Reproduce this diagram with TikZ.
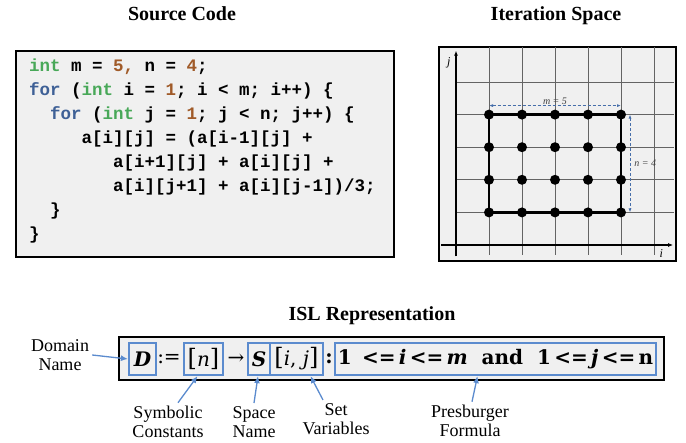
\documentclass[tikz,border=0pt]{standalone}
\usepackage{fontspec}
\setmainfont{Liberation Serif}
\newfontfamily\codefont{Liberation Mono}
\newfontfamily\islfont{DejaVu Serif}
\usetikzlibrary{arrows.meta,positioning}

\definecolor{intgreen}{RGB}{72,168,88}
\definecolor{forblue}{RGB}{62,96,150}
\definecolor{numbrown}{RGB}{160,90,40}
\definecolor{islblue}{RGB}{91,139,206}
\definecolor{dimblue}{RGB}{70,110,170}
\definecolor{panelgray}{RGB}{240,240,240}
\definecolor{gridgray}{RGB}{100,100,100}

\newcommand{\kwint}{\textcolor{intgreen}{int}}
\newcommand{\kwfor}{\textcolor{forblue}{for}}
\newcommand{\num}[1]{\textcolor{numbrown}{#1}}
\newcommand{\ind}[1]{\hspace*{#1\dimexpr0.6em\relax}}
\newcommand{\bl}{{\fontsize{24}{24}\selectfont[}}
\newcommand{\br}{{\fontsize{24}{24}\selectfont]}}

\begin{document}
\begin{tikzpicture}[x=1pt,y=-1pt,
  title/.style={font=\fontsize{20}{24}\selectfont\bfseries, anchor=base, inner sep=0},
  panel/.style={draw=black, line width=1.1pt, fill=panelgray},
  islbox/.style={draw=islblue, line width=2.2pt, minimum height=32pt, inner sep=0,
                 font=\islfont\fontsize{20}{24}\selectfont},
  islsym/.style={inner sep=0, font=\islfont\fontsize{20}{24}\selectfont},
  note/.style={font=\fontsize{18}{19.5}\selectfont, align=center, inner sep=0},
  labelarrow/.style={islblue, line width=1.3pt, -{Latex[length=7pt,width=6pt]}},
  gridline/.style={gridgray, line width=0.8pt},
  axisline/.style={black, line width=1.3pt, -{Latex[length=5pt,width=4pt]}},
  gridpt/.style={circle, fill=black, inner sep=0, minimum size=10pt},
  dimarrow/.style={dimblue, densely dashed, line width=0.9pt, {Latex[length=4pt]}-{Latex[length=4pt]}},
  dimtext/.style={font=\fontsize{10}{11}\selectfont\itshape, text=black!75, inner sep=1pt}]

\useasboundingbox (0,0) rectangle (686,443);

% titles
\node[title] (srctitle) at (182,21) {Source Code};
\node[title] (itertitle) at (556,21) {Iteration Space};
\node[title] (isltitle) at (372,321) {ISL Representation};

% source code
\draw[panel] (16,51) rectangle (394,257);
\node[anchor=north west, inner sep=0, align=left,
      font=\codefont\fontsize{17.5}{24}\selectfont\bfseries] (code) at (29,59)
{\kwint{} m = \num{5,} n = \num{4};\\
 \kwfor{} (\kwint{} i = \num{1}; i < m; i++) \{\\
 \ind{2}\kwfor{} (\kwint{} j = \num{1}; j < n; j++) \{\\
 \ind{5}a[i][j] = (a[i-1][j] +\\
 \ind{8}a[i+1][j] + a[i][j] +\\
 \ind{8}a[i][j+1] + a[i][j-1])/3;\\
 \ind{2}\}\\
 \}};

% iteration space
\draw[panel] (439,47) rectangle (676,261);
\begin{scope}[shift={(456,245)}, x=33pt, y=32.6pt]
  \foreach \i in {1,...,6}
    \draw[gridline] (\i,-0.3) -- (\i,6.07);
  \foreach \j in {1,...,5}
    \draw[gridline] (0,\j) -- (6.62,\j);
  \draw[axisline] (-0.45,0) -- (6.58,0);
  \draw[axisline] (0,-0.35) -- (0,5.96);
  \node[font=\fontsize{12}{12}\selectfont\itshape] (jlab) at (-0.22,5.58) {j};
  \node[font=\fontsize{12}{12}\selectfont\itshape] (ilab) at (6.22,-0.26) {i};
  \draw[black, line width=2.4pt] (1,1) rectangle (5,4);
  \foreach \i in {1,...,5}
    \foreach \j in {1,...,4}
      \node[gridpt] (p\i\j) at (\i,\j) {};
\end{scope}
\draw[dimarrow] ([yshift=9pt]p14.center) -- ([yshift=9pt]p54.center)
  node[dimtext, midway, above] {m = 5};
\draw[dimarrow] ([xshift=9pt]p54.center) -- ([xshift=9pt]p51.center)
  node[dimtext, midway, right=3pt] {n = 4};

% ISL representation
\draw[panel] (119,337) rectangle (664,380);
\node[islbox, minimum width=27pt] (dbox) at (142.5,359) {\bfseries\itshape D};
\node[islsym] (assign) at (169,359) {:=};
\node[islbox, minimum width=39pt] (nbox) at (203.5,359) {\bl\textit{n}\br};
\node[islsym] (maparrow) at (236,359) {→};
\node[islbox, minimum width=22pt] (sbox) at (259,359) {\bfseries\itshape S};
\node[islbox, minimum width=53pt] (ijbox) at (296.5,359) {\bl\textit{i}, \textit{j}\br};
\node[islsym] (colon) at (329,359) {\bfseries :};
\node[islbox, minimum width=321pt] (formula) at (495.5,359)
  {\bfseries 1 \,<=\,\textit{i}\,<=\,\textit{m}\ \ and\ \ 1\,<=\,\textit{j}\,<=\,n};

\node[note] (dname) at (60,355) {Domain\\Name};
\node[note] (symb) at (168,422) {Symbolic\\Constants};
\node[note] (spname) at (254,422) {Space\\Name};
\node[note] (setv) at (336,419) {Set\\Variables};
\node[note] (presb) at (470,421) {Presburger\\Formula};

\draw[labelarrow] ([xshift=3pt]dname.east) -- (dbox.west);
\draw[labelarrow] ([xshift=10pt,yshift=3pt]symb.north) -- ([xshift=-6pt]nbox.south);
\draw[labelarrow] ([yshift=3pt]spname.north) -- ([xshift=-1pt]sbox.south);
\draw[labelarrow] ([xshift=-13pt,yshift=3pt]setv.north) -- ([xshift=14pt]ijbox.south);
\draw[labelarrow] ([xshift=2pt,yshift=3pt]presb.north) -- ([xshift=-18pt]formula.south);
\end{tikzpicture}
\end{document}
